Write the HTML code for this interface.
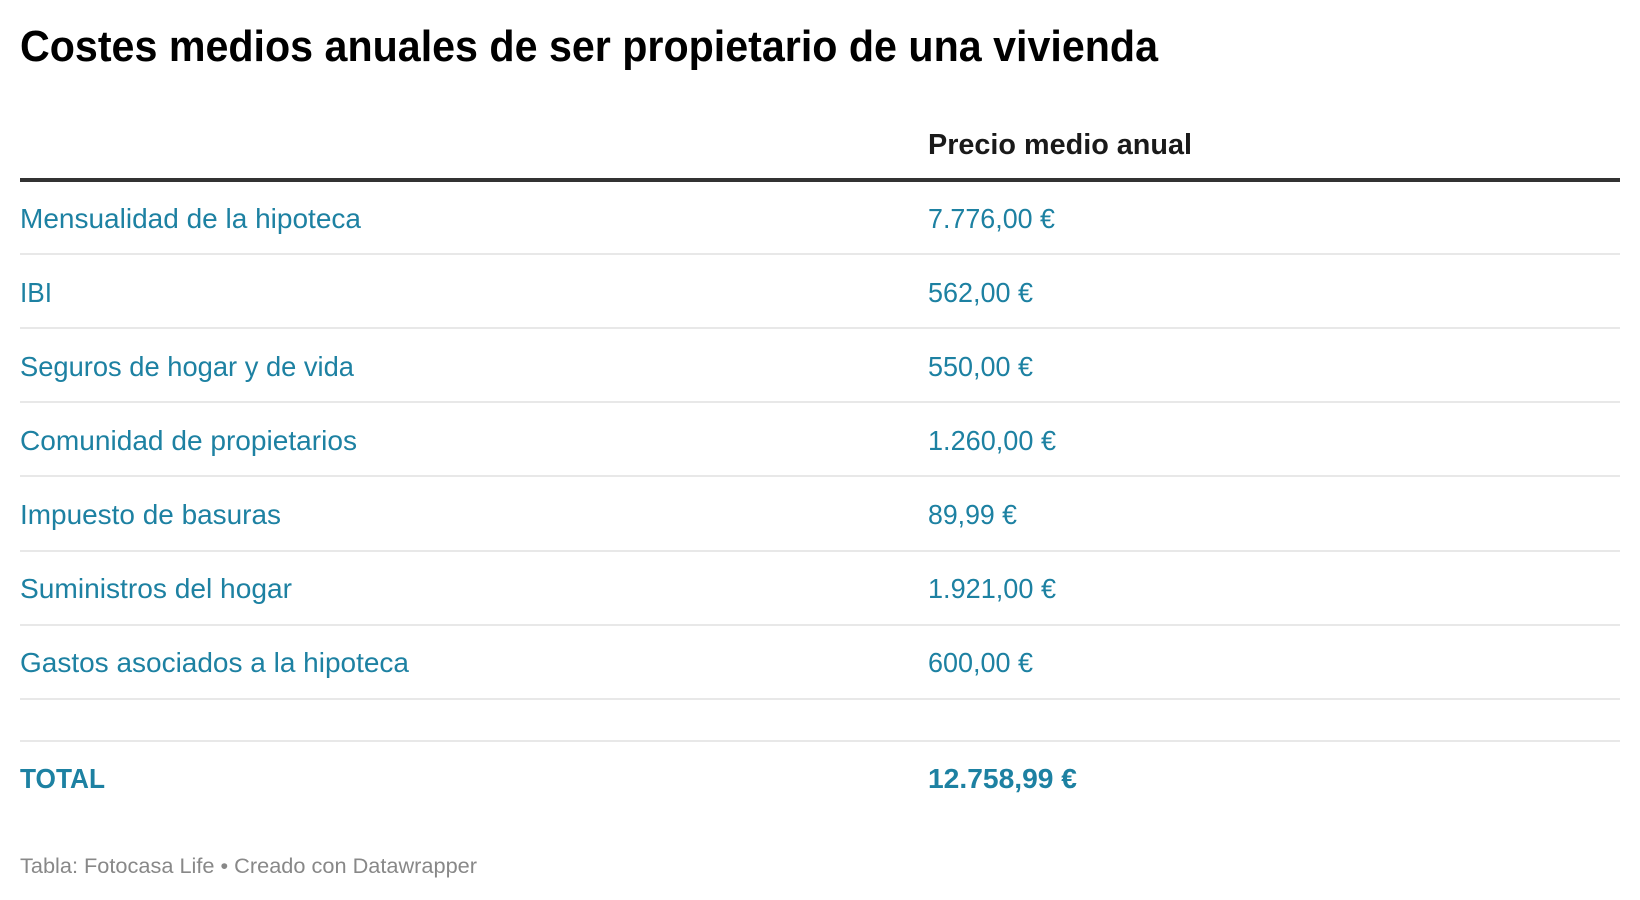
<!DOCTYPE html>
<html><head><meta charset="utf-8"><style>html,body{margin:0;padding:0;background:#fff}svg{display:block}</style></head>
<body>
<svg width="1640" height="900" viewBox="0 0 1640 900" xmlns="http://www.w3.org/2000/svg" font-family="Liberation Sans, Arial, sans-serif">
<rect width="1640" height="900" fill="#fff"/>
<text x="20" y="61" font-size="44" font-weight="bold" fill="#000" textLength="1138" lengthAdjust="spacingAndGlyphs">Costes medios anuales de ser propietario de una vivienda</text>
<text x="928" y="154" font-size="29" font-weight="bold" fill="#1a1a1a" textLength="264" lengthAdjust="spacingAndGlyphs">Precio medio anual</text>
<rect x="20" y="178" width="1600" height="4" fill="#333"/>
<g fill="#e8e8e8">
<rect x="20" y="253" width="1600" height="2"/>
<rect x="20" y="327" width="1600" height="2"/>
<rect x="20" y="401" width="1600" height="2"/>
<rect x="20" y="475" width="1600" height="2"/>
<rect x="20" y="550" width="1600" height="2"/>
<rect x="20" y="624" width="1600" height="2"/>
<rect x="20" y="698" width="1600" height="2"/>
<rect x="20" y="740" width="1600" height="2"/>
</g>
<g font-size="28" fill="#1d81a2" lengthAdjust="spacingAndGlyphs">
<text x="20" y="228" textLength="341" lengthAdjust="spacingAndGlyphs">Mensualidad de la hipoteca</text>
<text x="928" y="228" textLength="127" lengthAdjust="spacingAndGlyphs">7.776,00 €</text>
<text x="20" y="302" textLength="32" lengthAdjust="spacingAndGlyphs">IBI</text>
<text x="928" y="302" textLength="105" lengthAdjust="spacingAndGlyphs">562,00 €</text>
<text x="20" y="376" textLength="334" lengthAdjust="spacingAndGlyphs">Seguros de hogar y de vida</text>
<text x="928" y="376" textLength="105" lengthAdjust="spacingAndGlyphs">550,00 €</text>
<text x="20" y="450" textLength="337" lengthAdjust="spacingAndGlyphs">Comunidad de propietarios</text>
<text x="928" y="450" textLength="128" lengthAdjust="spacingAndGlyphs">1.260,00 €</text>
<text x="20" y="524" textLength="261" lengthAdjust="spacingAndGlyphs">Impuesto de basuras</text>
<text x="928" y="524" textLength="89" lengthAdjust="spacingAndGlyphs">89,99 €</text>
<text x="20" y="598" textLength="272" lengthAdjust="spacingAndGlyphs">Suministros del hogar</text>
<text x="928" y="598" textLength="128" lengthAdjust="spacingAndGlyphs">1.921,00 €</text>
<text x="20" y="672" textLength="389" lengthAdjust="spacingAndGlyphs">Gastos asociados a la hipoteca</text>
<text x="928" y="672" textLength="105" lengthAdjust="spacingAndGlyphs">600,00 €</text>
<text x="20" y="788" font-weight="bold" textLength="85" lengthAdjust="spacingAndGlyphs">TOTAL</text>
<text x="928" y="788" font-weight="bold" textLength="149" lengthAdjust="spacingAndGlyphs">12.758,99 €</text>
</g>
<text x="20" y="873" font-size="21" fill="#888" textLength="457" lengthAdjust="spacingAndGlyphs">Tabla: Fotocasa Life • Creado con Datawrapper</text>
</svg>
</body></html>
